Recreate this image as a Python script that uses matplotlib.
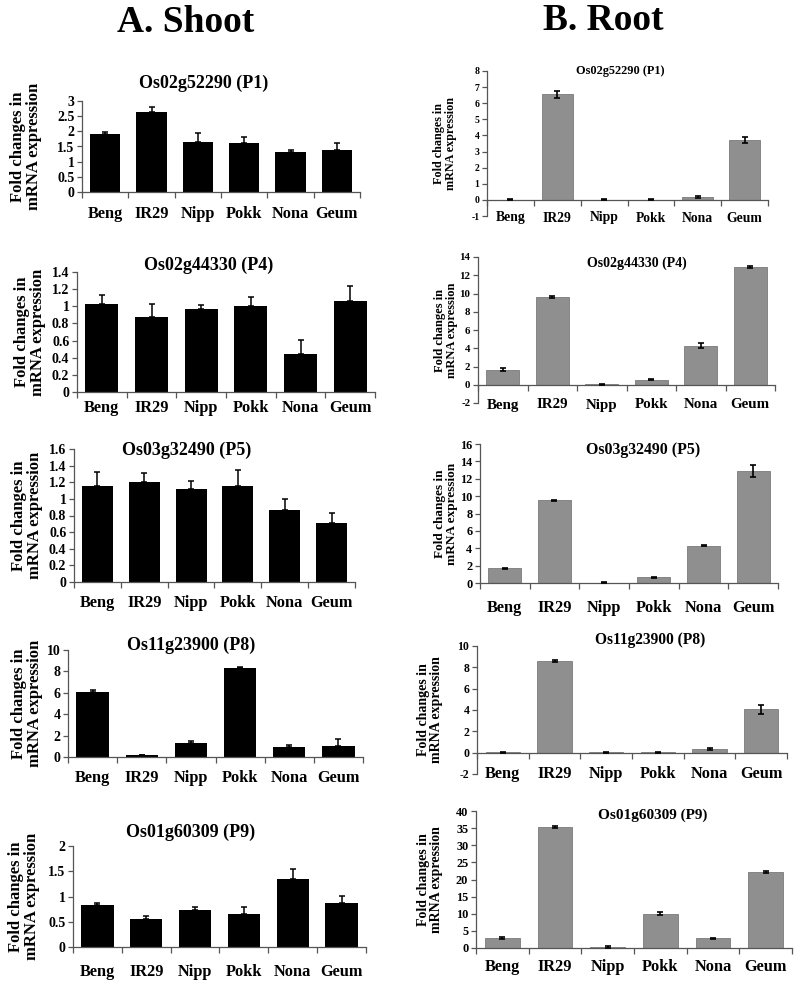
import numpy as np
import matplotlib.pyplot as plt
from matplotlib.ticker import FuncFormatter

plt.rcParams['font.family'] = ['Liberation Serif', 'DejaVu Serif']
plt.rcParams['font.weight'] = 'bold'

W, H = 796, 984

cultivars = ["Beng", "IR29", "Nipp", "Pokk", "Nona", "Geum"]
genes = ["Os02g52290 (P1)", "Os02g44330 (P4)", "Os03g32490 (P5)",
         "Os11g23900 (P8)", "Os01g60309 (P9)"]

# A. Shoot - fold changes and error (upper only)
shoot_p1 = [1.90, 2.63, 1.66, 1.63, 1.31, 1.40]
shoot_p1_err = [0.08, 0.18, 0.27, 0.18, 0.07, 0.21]
shoot_p4 = [1.03, 0.87, 0.97, 1.00, 0.44, 1.06]
shoot_p4_err = [0.10, 0.16, 0.04, 0.11, 0.17, 0.18]
shoot_p5 = [1.15, 1.20, 1.12, 1.16, 0.87, 0.71]
shoot_p5_err = [0.17, 0.11, 0.09, 0.19, 0.13, 0.12]
shoot_p8 = [6.11, 0.18, 1.34, 8.30, 0.91, 1.07]
shoot_p8_err = [0.16, 0.02, 0.12, 0.07, 0.25, 0.57]
shoot_p9 = [0.84, 0.56, 0.73, 0.65, 1.35, 0.88]
shoot_p9_err = [0.03, 0.05, 0.07, 0.15, 0.19, 0.13]

# B. Root - fold changes and error (both sides)
root_p1 = [0.02, 6.55, 0.01, 0.01, 0.17, 3.70]
root_p1_err = [0.03, 0.20, 0.02, 0.02, 0.08, 0.18]
root_p4 = [1.64, 9.63, 0.06, 0.55, 4.30, 12.90]
root_p4_err = [0.15, 0.15, 0.04, 0.08, 0.25, 0.08]
root_p5 = [1.71, 9.54, 0.05, 0.65, 4.30, 12.85]
root_p5_err = [0.06, 0.05, 0.04, 0.08, 0.06, 0.70]
root_p8 = [0.02, 8.59, 0.02, 0.02, 0.31, 4.09]
root_p8_err = [0.04, 0.10, 0.04, 0.04, 0.10, 0.42]
root_p9 = [2.96, 35.2, 0.38, 10.0, 2.86, 22.2]
root_p9_err = [0.30, 0.30, 0.25, 0.50, 0.20, 0.30]

shoot_vals = [shoot_p1, shoot_p4, shoot_p5, shoot_p8, shoot_p9]
shoot_errs = [shoot_p1_err, shoot_p4_err, shoot_p5_err, shoot_p8_err, shoot_p9_err]
root_vals = [root_p1, root_p4, root_p5, root_p8, root_p9]
root_errs = [root_p1_err, root_p4_err, root_p5_err, root_p8_err, root_p9_err]

shoot_ylims = [(0, 3, 0.5), (0, 1.4, 0.2), (0, 1.6, 0.2), (0, 10, 2), (0, 2, 0.5)]
root_ylims = [(-1, 8, 1), (-2, 14, 2), (0, 16, 2), (-2, 10, 2), (0, 40, 5)]

# layout in pixels: (left, top, right, bottom) of each plot area
shoot_box = [(82, 101, 360, 192), (77, 272, 375, 392), (74, 449, 355, 582),
             (68, 650, 363, 757), (73, 846, 366, 947)]
root_box = [(487, 71, 768, 216), (478, 257, 775, 403), (480, 444, 778, 583),
            (477, 646, 787, 774), (476, 811, 792, 948)]
shoot_title_xy = [(204, 83), (209, 265), (187, 450), (191, 645), (191, 832)]
root_title_xy = [(620, 71), (637, 263), (643, 450), (650, 640), (653, 815)]
shoot_ylab_x = [26, 30, 27, 27, 24]
root_ylab_x = [445, 446, 446, 430, 430]
shoot_lab_off = [22, 16, 21, 21, 25]   # px below plot bottom
root_lab_off = [2, 2, 25, 0, 19]

shoot_fs = dict(title=13, tick=10, cat=11.8, ylab=12)
root_fs = [dict(title=8.8, tick=7, cat=9.8, ylab=8.7),
           dict(title=10, tick=7.8, cat=10.8, ylab=9),
           dict(title=11.4, tick=8.8, cat=11.8, ylab=9.5),
           dict(title=11.2, tick=8.5, cat=11.8, ylab=10),
           dict(title=11, tick=8.8, cat=11.8, ylab=10)]

fmt = FuncFormatter(lambda v, p: f"{round(v, 3):g}")

fig = plt.figure(figsize=(W / 100, H / 100), dpi=100)
fig.patch.set_facecolor('white')


def draw_panel(box, vals, errs, ylim, title, title_xy, ylab_x, lab_off, fs, root):
    l, t, r, b = box
    ax = fig.add_axes([l / W, 1 - b / H, (r - l) / W, (b - t) / H])
    x = np.arange(len(cultivars))
    if root:
        ax.bar(x, vals, width=0.66, color='#8f8f8f', edgecolor='#7a7a7a', linewidth=0.6, zorder=2)
        ax.errorbar(x, vals, yerr=errs, fmt='none', ecolor='black',
                    elinewidth=1.2, capsize=2.5, capthick=1.2, zorder=3)
    else:
        ax.bar(x, vals, width=0.66, color='black', zorder=2)
        ax.errorbar(x, vals, yerr=[np.zeros(len(vals)), errs], fmt='none', ecolor='black',
                    elinewidth=1.1, capsize=2.5, capthick=1.1, zorder=3)
    lo, hi, step = ylim
    ax.set_ylim(lo, hi)
    ax.set_xlim(-0.5, len(cultivars) - 0.5)
    ax.set_yticks(np.arange(lo, hi + step / 2, step))
    ax.yaxis.set_major_formatter(fmt)
    ax.set_xticks([])
    ax.set_xticks(np.arange(-0.5, len(cultivars)), minor=True)
    for s in ['top', 'right']:
        ax.spines[s].set_visible(False)
    for s in ['left', 'bottom']:
        ax.spines[s].set_color('#555555')
        ax.spines[s].set_linewidth(0.9)
    if root:
        ax.spines['bottom'].set_position(('data', 0))
    ax.tick_params(axis='y', direction='out', length=3.5, width=0.9, color='#555555',
                   labelsize=fs['tick'], pad=2)
    ax.tick_params(axis='x', which='minor', direction='out', length=4, width=0.9,
                   color='#555555', labelbottom=False)
    for lab in ax.get_yticklabels():
        lab.set_fontweight('bold')
    ax.set_facecolor('none')
    for i, name in enumerate(cultivars):
        ax.annotate(name, xy=(i, 0), xycoords=ax.get_xaxis_transform(),
                    xytext=(0, -lab_off * 0.72), textcoords='offset points',
                    ha='center', va='center', fontsize=fs['cat'], fontweight='bold')
    fig.text(title_xy[0] / W, 1 - title_xy[1] / H, title, ha='center', va='center',
             fontsize=fs['title'], fontweight='bold')
    fig.text(ylab_x / W, 1 - (t + b) / 2 / H, "Fold changes in\nmRNA expression",
             rotation=90, ha='center', va='center', multialignment='center',
             fontsize=fs['ylab'], fontweight='bold', linespacing=1.05)


for k in range(5):
    draw_panel(shoot_box[k], shoot_vals[k], shoot_errs[k], shoot_ylims[k], genes[k],
               shoot_title_xy[k], shoot_ylab_x[k], shoot_lab_off[k], shoot_fs, False)
    draw_panel(root_box[k], root_vals[k], root_errs[k], root_ylims[k], genes[k],
               root_title_xy[k], root_ylab_x[k], root_lab_off[k], root_fs[k], True)

fig.text(186 / W, 1 - 22 / H, "A. Shoot", ha='center', va='center', fontsize=27, fontweight='bold')
fig.text(603 / W, 1 - 20 / H, "B. Root", ha='center', va='center', fontsize=27, fontweight='bold')

fig.savefig('out.png', dpi=100, facecolor='white')
